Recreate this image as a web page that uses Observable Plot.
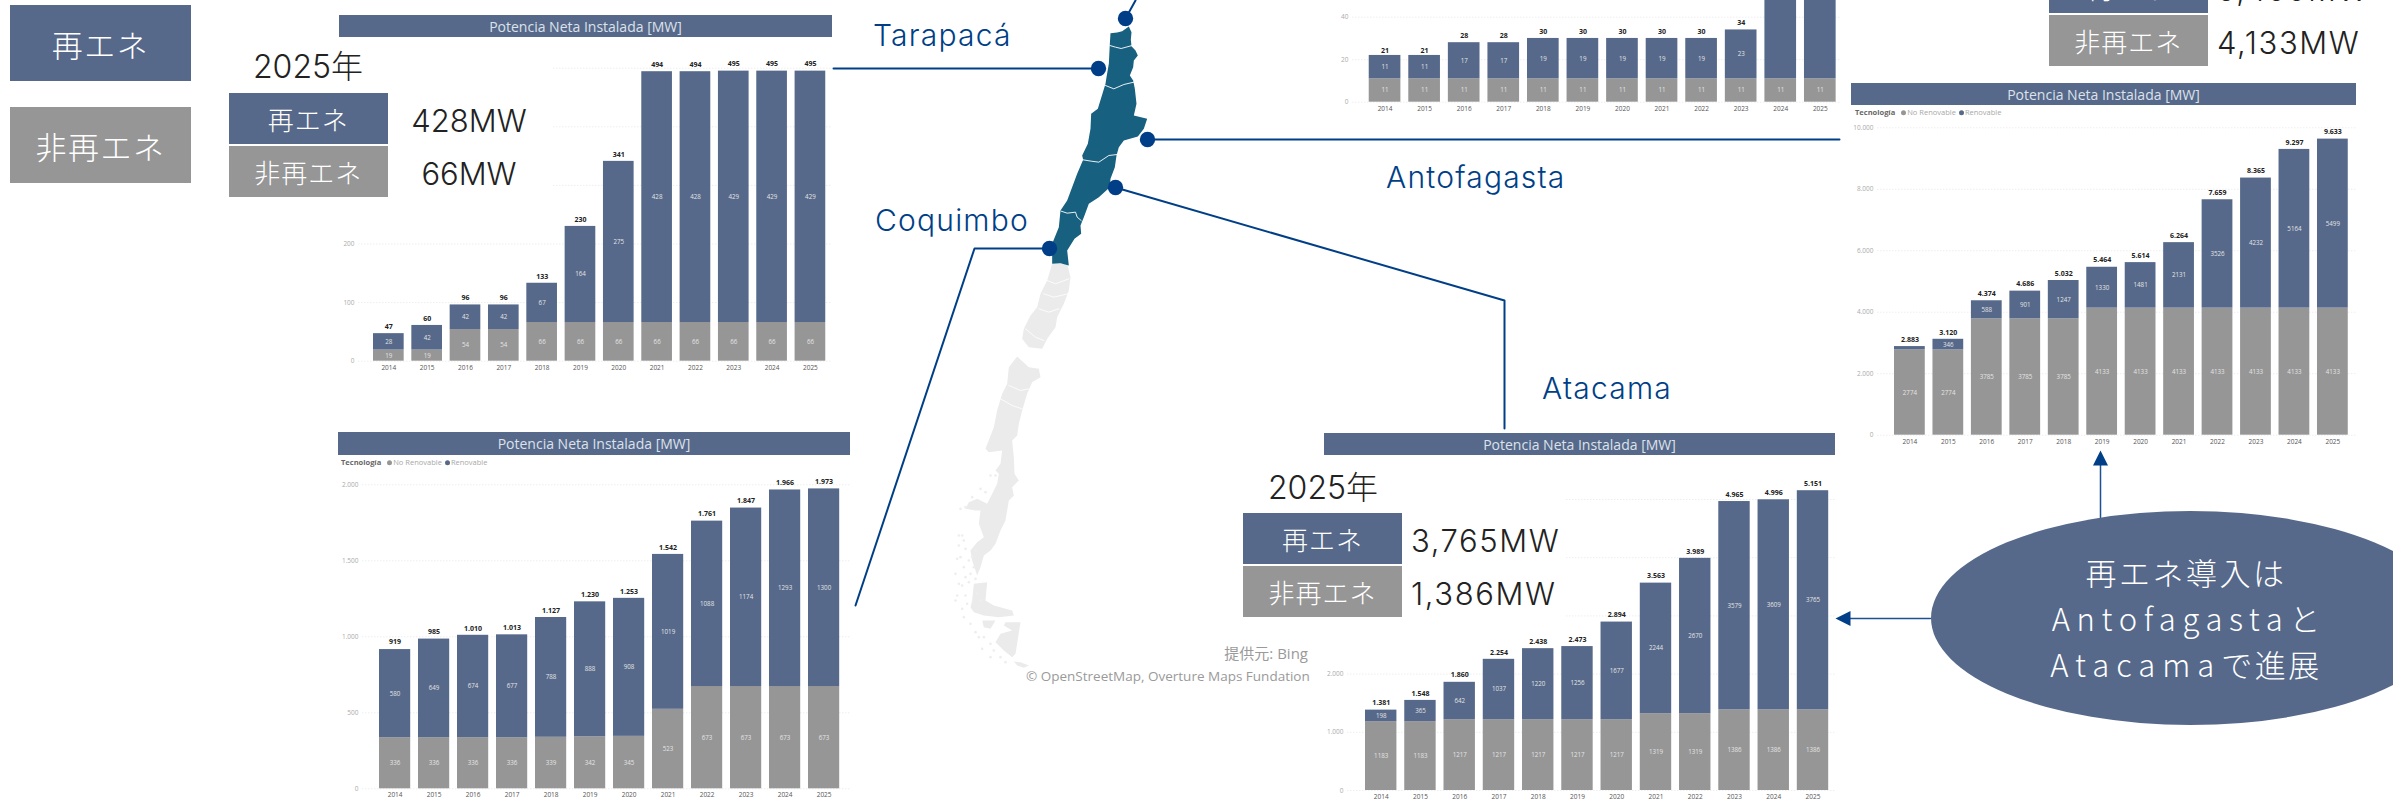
<!DOCTYPE html>
<html lang="ja">
<head>
<meta charset="utf-8">
<title>Potencia Neta Instalada</title>
<script src="https://cdn.jsdelivr.net/npm/d3@7"></script>
<script src="https://cdn.jsdelivr.net/npm/@observablehq/plot@0.6"></script>
<style>
  html, body { margin: 0; padding: 0; background: #fff; }
  #stage { position: relative; width: 2393px; height: 800px; overflow: hidden; background: #fff; }
  #stage > svg { position: absolute; }
  .box { position: absolute; display: flex; align-items: center; justify-content: center; color: #fff; font-family: "Noto Sans CJK JP", sans-serif; font-weight: 300; white-space: nowrap; }
  .txt { position: absolute; white-space: nowrap; line-height: 1; transform: translateY(-50%); }
  .kpi { font-family: Inter, "Noto Sans CJK JP", sans-serif; font-weight: 300; color: #222; }
  .region { font-family: Inter, sans-serif; font-size: 30px; font-weight: 300; letter-spacing: 1.2px; color: #003f87; }
  .credit { font-family: "Open Sans", "Noto Sans CJK JP", sans-serif; color: #9a9a9a; font-size: 13.5px; }
  .legend { font-family: "Open Sans", sans-serif; font-size: 7.5px; color: #a8a8a8; }
  .legend b { color: #666; margin-right: 3px; }
  .legend i { display: inline-block; width: 5px; height: 5px; border-radius: 50%; margin: 0 1px 0 3px; vertical-align: 0; }
</style>
</head>
<body>
<div id="stage"></div>
<script>
// Net installed capacity per Chilean region, MW
const years = ["2014","2015","2016","2017","2018","2019","2020","2021","2022","2023","2024","2025"];

const aricaNon   = [11,11,11,11,11,11,11,11,11,11,11,11];
const aricaRen   = [11,11,17,17,19,19,19,19,19,23,80,80];
const aricaTotal = [21,21,28,28,30,30,30,30,30,34,null,null];

const tarapacaNon   = [19,19,54,54,66,66,66,66,66,66,66,66];
const tarapacaRen   = [28,42,42,42,67,164,275,428,428,429,429,429];
const tarapacaTotal = [47,60,96,96,133,230,341,494,494,495,495,495];

const antofagastaNon   = [2774,2774,3785,3785,3785,4133,4133,4133,4133,4133,4133,4133];
const antofagastaRen   = [109,346,588,901,1247,1330,1481,2131,3526,4232,5164,5499];
const antofagastaTotal = [2883,3120,4374,4686,5032,5464,5614,6264,7659,8365,9297,9633];

const atacamaNon   = [1183,1183,1217,1217,1217,1217,1217,1319,1319,1386,1386,1386];
const atacamaRen   = [198,365,642,1037,1220,1256,1677,2244,2670,3579,3609,3765];
const atacamaTotal = [1381,1548,1860,2254,2438,2473,2894,3563,3989,4965,4996,5151];

const coquimboNon   = [336,336,336,336,339,342,345,523,673,673,673,673];
const coquimboRen   = [580,649,674,677,788,888,908,1019,1088,1174,1293,1300];
const coquimboTotal = [919,985,1010,1013,1127,1230,1253,1542,1761,1847,1966,1973];

const techNames = ["No Renovable", "Renovable"];
const blue = "#56698a", gray = "#969696", navy = "#003f87";
const headerTitle = "Potencia Neta Instalada [MW]";
const renLabel = "再エネ", nonLabel = "非再エネ", yearLabel = "2025年";

// Map outlines, in units of a third of a pixel
const northOutline = [[780,98],[800,96],[815,92],[835,78],[843,95],[841,118],[843,137],[855,150],[862,165],[850,180],[848,200],[838,225],[848,240],[853,265],[858,310],[850,345],[890,355],[880,385],[862,408],[820,420],[805,440],[798,465],[793,500],[780,535],[778,560],[745,590],[715,610],[700,650],[690,675],[692,700],[672,715],[650,750],[655,795],[630,788],[605,790],[605,730],[625,680],[630,630],[650,600],[680,520],[698,478],[695,465],[712,430],[720,385],[722,340],[742,325],[765,250],[768,230],[775,190],[778,130]];
const northBorders = [
  [[778,135],[795,140],[812,144],[845,135]],
  [[765,255],[790,265],[820,252],[850,245]],
  [[698,478],[722,482],[745,485],[775,465],[800,462]],
  [[632,632],[650,638],[675,635],[680,650],[692,660]]
];
const centralOutline = [[605,790],[650,790],[660,830],[655,870],[640,910],[620,950],[615,980],[590,1015],[575,1045],[535,1040],[515,1015],[520,985],[540,945],[560,920],[570,880],[590,840]];
const midOutline = [[500,1068],[535,1100],[565,1105],[570,1130],[545,1145],[530,1180],[515,1230],[505,1270],[500,1305],[485,1320],[490,1370],[492,1420],[505,1440],[485,1460],[490,1485],[475,1500],[465,1560],[450,1590],[435,1630],[420,1650],[400,1665],[390,1700],[380,1725],[365,1680],[360,1650],[380,1625],[400,1610],[385,1570],[390,1530],[375,1530],[345,1525],[355,1505],[380,1495],[410,1510],[425,1480],[440,1450],[445,1420],[435,1410],[450,1390],[455,1350],[415,1355],[405,1345],[430,1280],[440,1230],[455,1180],[470,1150],[475,1100]];
const southChannelOutline = [[370,1750],[410,1745],[405,1800],[430,1815],[485,1830],[490,1845],[445,1850],[400,1845],[370,1835],[360,1820],[365,1800]];
const fuegoOutline = [[465,1865],[510,1865],[495,1960],[485,1970],[460,1950],[435,1925],[450,1900],[485,1890],[460,1875]];
const strait = [[395,1860],[435,1860],[420,1885],[400,1880]];
const capeTip = [[490,1983],[510,1985],[535,1995],[520,2002],[500,1995]];
const southBorders = [
  [[590,840],[615,850],[655,835]],
  [[580,880],[610,890],[652,880]],
  [[565,925],[595,935],[625,925]],
  [[525,985],[555,1010],[580,1020]],
  [[475,1155],[510,1170],[535,1165]],
  [[450,1195],[485,1215],[515,1225]]
];
const islands = [[335,1605],[340,1620],[325,1635],[345,1645],[330,1670],[355,1680],[320,1675],[340,1700],[315,1720],[360,1720],[355,1745],[335,1755],[320,1785],[345,1785],[315,1800],[350,1810],[340,1850],[360,1870],[375,1895],[385,1910],[400,1910],[420,1930],[430,1950],[450,1970],[465,1985],[330,1525],[390,1465],[405,1475],[365,1490],[420,1425],[435,1425],[345,1520],[325,1605],[365,1670],[370,1700],[375,1735],[380,1780],[390,1800],[375,1650],[345,1730],[325,1750],[335,1825],[395,1945],[420,1970]];

// Layout of each panel on the page
const layout = {
  arica:       {left: 1340, right: 1840, top: 0,   base: 101.7, refValue: 40,    refY: 16.7,  gridLeft: 1352, firstBar: 1368.7, lastBar: 1804,  grid: [0,20,40],                     ticks: [0,20,40]},
  tarapaca:    {left: 339,  right: 832,  top: 38,  base: 360.7, refValue: 500,   refY: 67.7,  gridLeft: 358,  firstBar: 373,    lastBar: 794.6, grid: [0,100,200,300,400,500],       ticks: [0,100,200]},
  antofagasta: {left: 1851, right: 2356, top: 106, base: 434.7, refValue: 10000, refY: 127.3, gridLeft: 1877, firstBar: 1894,   lastBar: 2317,  grid: [0,2000,4000,6000,8000,10000], ticks: [0,2000,4000,6000,8000,10000]},
  atacama:     {left: 1324, right: 1835, top: 456, base: 790,   refValue: 5000,  refY: 499,   gridLeft: 1347, firstBar: 1365,   lastBar: 1796.8,grid: [0,1000,2000,3000,4000,5000],  ticks: [0,1000,2000]},
  coquimbo:    {left: 338,  right: 850,  top: 456, base: 788.3, refValue: 2000,  refY: 484.3, gridLeft: 362,  firstBar: 379,    lastBar: 808,   grid: [0,500,1000,1500,2000],        ticks: [0,500,1000,1500,2000]}
};

const stage = document.getElementById("stage");
const dotted = (n) => d3.format(",")(n).replace(/,/g, ".");

function addBox(text, left, top, width, height, fill, fontSize, spacing) {
  const el = document.createElement("div");
  el.className = "box";
  el.textContent = text;
  Object.assign(el.style, {left: left + "px", top: top + "px", width: width + "px", height: height + "px",
    background: fill, fontSize: fontSize + "px", letterSpacing: (spacing || 0) + "px"});
  stage.append(el);
  return el;
}
function addText(text, left, y, cls, extra) {
  const el = document.createElement("div");
  el.className = "txt " + cls;
  el.textContent = text;
  el.style.left = left + "px";
  el.style.top = y + "px";
  Object.assign(el.style, extra || {});
  stage.append(el);
  return el;
}
function addHeader(left, right, top, bottom) {
  addBox(headerTitle, left, top, right - left, bottom - top, blue, 14).style.cssText +=
    'font-family:"Open Sans",sans-serif;font-weight:400;color:#dde2ea;';
}
function addLegend(left, y) {
  const el = addText("", left, y, "legend");
  el.innerHTML = `<b>Tecnología</b><i style="background:${gray}"></i>${techNames[0]}<i style="background:${blue}"></i>${techNames[1]}`;
}

// One stacked column chart: grey non-renewable below, blue renewable above
function columns(name, non, ren, total) {
  const g = layout[name];
  const height = Math.min(g.base + 14, 800) - g.top;
  const width = g.right - g.left;
  const step = (g.lastBar - g.firstBar) / (years.length - 1);
  const pad = 0.2;
  const x0 = g.firstBar - pad * step - g.left;
  const x1 = x0 + (years.length + pad) * step;
  const pxPerUnit = (g.base - g.refY) / g.refValue;
  const yMax = (g.base - g.top) / pxPerUnit;

  const rows = years.flatMap((year, i) => [
    {year, tech: techNames[0], value: non[i], mid: non[i] / 2},
    {year, tech: techNames[1], value: ren[i], mid: non[i] + ren[i] / 2}
  ]);
  const visible = rows.filter((d) => d.value * pxPerUnit > 6 && d.mid < yMax);
  const totals = years.map((year, i) => ({year, total: total[i]})).filter((d) => d.total != null);

  const svg = Plot.plot({
    width, height,
    marginLeft: g.gridLeft - g.left, marginRight: 0,
    marginTop: 0, marginBottom: height - (g.base - g.top),
    style: {background: "transparent", fontFamily: '"Open Sans", sans-serif', overflow: "hidden"},
    x: {type: "band", domain: years, range: [x0, x1], padding: pad, align: 0.5, round: false},
    y: {domain: [0, g.refValue], range: [g.base - g.top, g.refY - g.top]},
    color: {domain: techNames, range: [gray, blue]},
    marks: [
      Plot.ruleY(g.grid, {stroke: "#eeeeee", strokeWidth: 1, strokeDasharray: "1.5 1.5"}),
      Plot.axisY(g.ticks, {tickSize: 0, tickPadding: 4, fontSize: 6.5, color: "#ababab", tickFormat: dotted, label: null, marginLeft: g.gridLeft - g.left}),
      Plot.axisX(years, {tickSize: 0, tickPadding: 4, fontSize: 6.5, color: "#555", label: null}),
      Plot.barY(rows, {x: "year", y: "value", fill: "tech"}),
      Plot.text(visible, {x: "year", y: "mid", text: (d) => String(d.value), fill: "#e4e4e4", fontSize: 6.2}),
      Plot.text(totals, {x: "year", y: "total", text: (d) => dotted(d.total), dy: -7, fill: "#222", fontSize: 7, fontWeight: 700})
    ]
  });
  svg.style.left = g.left + "px";
  svg.style.top = g.top + "px";
  stage.append(svg);
}

// Key swatches at the far left
addBox(renLabel, 10, 5, 181, 76, blue, 31, 1.5);
addBox(nonLabel, 10, 107, 181, 76, gray, 31, 1.5);

columns("arica", aricaNon, aricaRen, aricaTotal);
columns("tarapaca", tarapacaNon, tarapacaRen, tarapacaTotal);
columns("antofagasta", antofagastaNon, antofagastaRen, antofagastaTotal);
columns("atacama", atacamaNon, atacamaRen, atacamaTotal);
columns("coquimbo", coquimboNon, coquimboRen, coquimboTotal);

// Panel titles and legends
addHeader(339, 832, 15, 37);
addHeader(338, 850, 432, 455);
addHeader(1324, 1835, 433, 455);
addHeader(1851, 2356, 83, 105);
addLegend(341, 463);
addLegend(1855, 113);

// White panels carrying the 2025 figures sit over the upper-left of two charts
addBox("", 339, 38, 213, 197, "#fff", 10);
addBox("", 1324, 456, 241, 167, "#fff", 10);

function kpiBlock(x, y, w, renText, nonText, valueX, centered, spacing) {
  addBox(renLabel, x, y, w, 50.5, blue, 26, 1);
  addBox(nonLabel, x, y + 53, w, 50.5, gray, 26, 1);
  const place = (t, yy) => {
    const el = addText(t, valueX, yy, "kpi", {fontSize: "31px", letterSpacing: spacing + "px"});
    if (centered) el.style.transform = "translate(-50%,-50%)";
  };
  place(renText, y + 27);
  place(nonText, y + 80);
}
addText(yearLabel, 308, 67, "kpi", {fontSize: "32px", transform: "translate(-50%,-50%)"});
kpiBlock(229, 93, 158.5, "428MW", "66MW", 469, true, 0);
addText(yearLabel, 1323, 488, "kpi", {fontSize: "32px", transform: "translate(-50%,-50%)"});
kpiBlock(1243, 513, 159, "3,765MW", "1,386MW", 1411, false, 1.6);
kpiBlock(2049, -38, 158.5, "5,499MW", "4,133MW", 2217, false, 1.6);

// Map, connectors and arrows, drawn in page coordinates
const toPage = ([x, y]) => [850 + x / 3, y / 3];
const polygon = (pts) => ({type: "Polygon", coordinates: [[...pts, pts[0]].map(toPage)]});
const polyline = (pts) => ({type: "LineString", coordinates: pts.map(toPage)});
const segments = (pts) => ({type: "LineString", coordinates: pts});
const overlayLeft = 830;

const connectors = [
  [[1125,18],[1135,0]],
  [[833,68],[1098,68]],
  [[1147,139],[1839,139]],
  [[1115,187],[1504,300],[1504,428]],
  [[1049,248],[974,248],[855,605]]
];
const hubs = [[1125,18],[1098,68],[1147,139],[1115,187],[1049,248]];
const arrowShafts = [[[2100,517],[2100,462]], [[1930,618],[1846,618]]];
const arrowHeads = [
  [[2100,450],[2107.5,465],[2092.5,465]],
  [[1835,618],[1850,610.5],[1850,625.5]]
];

const overlay = Plot.plot({
  width: 1400, height: 720, margin: 0,
  style: {background: "transparent", overflow: "hidden"},
  projection: d3.geoIdentity().translate([-overlayLeft, 0]),
  marks: [
    Plot.geo([centralOutline, midOutline, southChannelOutline, fuegoOutline, strait, capeTip].map(polygon), {fill: "#ebebeb"}),
    Plot.geo(southBorders.map(polyline), {stroke: "#fff", strokeWidth: 0.8}),
    Plot.dot(islands.map(toPage), {x: "0", y: "1", r: 1.3, fill: "#eeeeee"}),
    Plot.geo([polygon(northOutline)], {fill: "#17607f"}),
    Plot.geo(northBorders.map(polyline), {stroke: "#fff", strokeWidth: 0.9}),
    Plot.geo(connectors.map(segments), {stroke: navy, strokeWidth: 2}),
    Plot.dot(hubs, {x: "0", y: "1", r: 7.7, fill: navy}),
    Plot.geo(arrowShafts.map(segments), {stroke: "#1f5092", strokeWidth: 1.5}),
    Plot.geo(arrowHeads.map((p) => ({type: "Polygon", coordinates: [[...p, p[0]]]})), {fill: navy})
  ]
});
overlay.style.left = overlayLeft + "px";
overlay.style.top = "0px";
stage.append(overlay);

addText("Tarapacá", 873, 35, "region");
addText("Coquimbo", 875, 220, "region");
addText("Antofagasta", 1386, 177, "region");
addText("Atacama", 1542, 388, "region");

const credit1 = addText("提供元: Bing", 0, 653, "credit");
credit1.style.left = "auto"; credit1.style.right = (2393 - 1308) + "px"; credit1.style.fontSize = "15px";
addText("© OpenStreetMap, Overture Maps Fundation", 1026, 677, "credit");

// Callout bubble
const bubble = document.createElement("div");
bubble.className = "box";
Object.assign(bubble.style, {left: "1930.5px", top: "511px", width: "519px", height: "214px", background: blue,
  borderRadius: "50%", flexDirection: "column", fontSize: "31px", lineHeight: "46px", paddingRight: "8px", boxSizing: "border-box"});
bubble.innerHTML = '<div style="letter-spacing:2.5px">再エネ導入は</div>' +
  '<div><span style="letter-spacing:6.6px">Antofagasta</span>と</div>' +
  '<div><span style="letter-spacing:7px">Atacama</span><span style="letter-spacing:2.5px">で進展</span></div>';
stage.append(bubble);
</script>
</body>
</html>
